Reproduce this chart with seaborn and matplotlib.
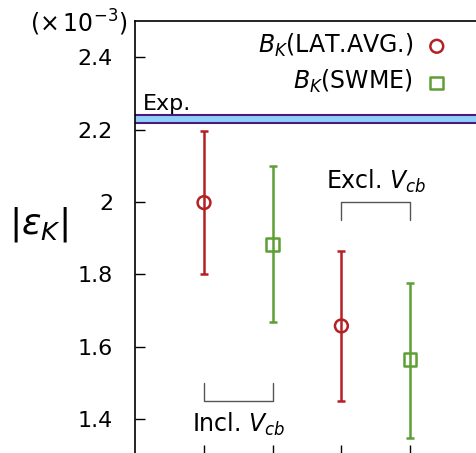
import numpy as np
import pandas as pd
import seaborn as sns
import matplotlib.pyplot as plt

# |eps_K| in units of 1e-3
positions = [1, 2, 3, 4]
series = ['LAT.AVG.', 'SWME', 'LAT.AVG.', 'SWME']
eps_center = [1.998, 1.883, 1.657, 1.564]
eps_upper = [2.195, 2.099, 1.863, 1.777]
eps_lower = [1.800, 1.668, 1.450, 1.348]

exp_value = 2.228
exp_err = 0.011

labels = {'LAT.AVG.': r'$B_K$(LAT.AVG.)', 'SWME': r'$B_K$(SWME)'}
colors = {'LAT.AVG.': '#b52025', 'SWME': '#5e9f35'}
markers = {'LAT.AVG.': 'o', 'SWME': 's'}

df = pd.DataFrame({'x': positions, 'series': series, 'eps': eps_center,
                   'hi': eps_upper, 'lo': eps_lower})

sns.set_style('ticks')
plt.rcParams['font.family'] = ['DejaVu Sans']
plt.rcParams['mathtext.fontset'] = 'dejavusans'
plt.rcParams.update({'text.color': 'black', 'axes.edgecolor': 'black',
                     'xtick.color': 'black', 'ytick.color': 'black',
                     'axes.labelcolor': 'black'})

FS = 16

fig = plt.figure(figsize=(4.76, 4.53), dpi=100)
ax = fig.add_axes([0.2843, -0.0045, 0.7215, 0.958])

# experimental band
ax.axhspan(exp_value - exp_err, exp_value + exp_err, color='#8fd0f8', lw=0, zorder=1)
for yv in (exp_value - exp_err, exp_value + exp_err):
    ax.axhline(yv, color='#4b1a7a', lw=1.5, zorder=2)
ax.text(0.11, 2.272, 'Exp.', fontsize=FS, va='center', ha='left')

for key in ['LAT.AVG.', 'SWME']:
    sub = df[df.series == key]
    ax.errorbar(sub.x, sub.eps, yerr=[sub.eps - sub.lo, sub.hi - sub.eps], fmt='none',
                ecolor=colors[key], elinewidth=1.8, capsize=3, capthick=1.8, zorder=3)
    sns.scatterplot(data=sub, x='x', y='eps', marker=markers[key], s=85,
                    facecolors='none', edgecolor=colors[key], linewidth=1.8,
                    label=labels[key], ax=ax, zorder=4)

# brackets
bk = '#555555'
ax.plot([1, 1, 2, 2], [1.50, 1.45, 1.45, 1.50], color=bk, lw=1)
ax.text(1.5, 1.384, r'Incl. $V_{cb}$', fontsize=17, ha='center', va='center')
ax.plot([3, 3, 4, 4], [1.95, 2.0, 2.0, 1.95], color=bk, lw=1)
ax.text(3.5, 2.057, r'Excl. $V_{cb}$', fontsize=17, ha='center', va='center')

ax.set_xlim(0, 5)
ax.set_ylim(1.3, 2.5)
ax.set_xticks(positions)
ax.set_xticklabels([])
ax.set_yticks([1.4, 1.6, 1.8, 2.0, 2.2, 2.4])
ax.set_yticklabels(['1.4', '1.6', '1.8', '2', '2.2', '2.4'])
ax.tick_params(direction='in', length=7, labelsize=FS, width=1, pad=16)
ax.set_xlabel('')
ax.set_ylabel('')
for s in ax.spines.values():
    s.set_linewidth(1.2)

fig.text(38 / 476, 1 - 225 / 453, r'$|\varepsilon_K|$', fontsize=26, ha='center', va='center')
fig.text(79 / 476, 1 - 23 / 453, r'$(\times\,10^{-3})$', fontsize=17, ha='center', va='center')

ax.legend(loc='upper right', bbox_to_anchor=(0.974, 1.025), frameon=False, markerfirst=False,
          fontsize=17, labelspacing=0.4, handlelength=1.0, handletextpad=0.5)

fig.savefig('out.png', dpi=100)
